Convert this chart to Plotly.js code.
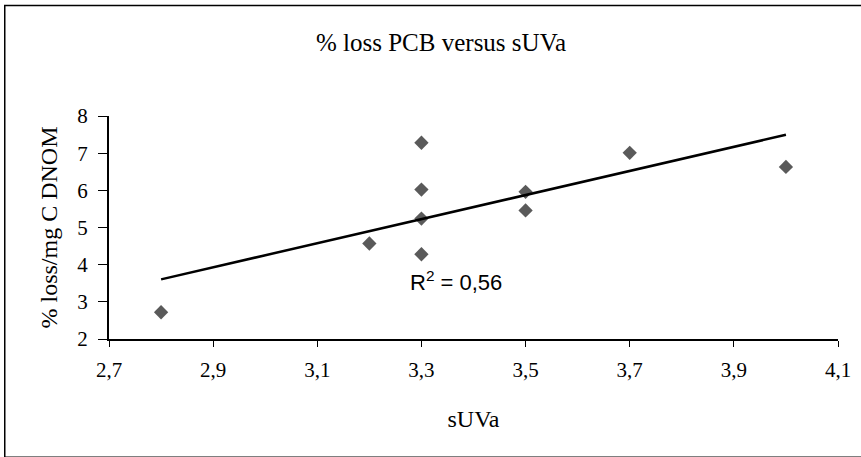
<!DOCTYPE html>
<html><head><meta charset="utf-8">
<script src="https://cdn.plot.ly/plotly-3.0.1.min.js"></script>
<style>html,body{margin:0;padding:0;background:#fff}#chart{width:861px;height:457px}</style>
</head><body><div id="chart"></div>
<script>
var suva = [2.8, 3.2, 3.3, 3.3, 3.3, 3.3, 3.5, 3.5, 3.7, 4.0];
var lossPerMgC = [2.72, 4.57, 7.28, 6.02, 5.24, 4.28, 5.96, 5.46, 7.01, 6.63];
var xTicks = [2.7, 2.9, 3.1, 3.3, 3.5, 3.7, 3.9, 4.1];
var yTicks = [2, 3, 4, 5, 6, 7, 8];
var r2Label = 'R<sup>2</sup> = 0,56';

// least-squares trend line computed from the data
var n = suva.length, mx = 0, my = 0;
for (var i = 0; i < n; i++) { mx += suva[i]; my += lossPerMgC[i]; }
mx /= n; my /= n;
var sxy = 0, sxx = 0;
for (var i = 0; i < n; i++) { sxy += (suva[i]-mx)*(lossPerMgC[i]-my); sxx += (suva[i]-mx)*(suva[i]-mx); }
var slope = sxy / sxx, icpt = my - slope * mx;
var xMin = Math.min.apply(null, suva), xMax = Math.max.apply(null, suva);
var trendX = [xMin, xMax];
var trendY = trendX.map(function (x) { return icpt + slope * x; });

var serif = 'Liberation Serif, Times New Roman, serif';
var data = [
  {x: suva, y: lossPerMgC, type: 'scatter', mode: 'markers',
   marker: {symbol: 'diamond', size: 11, color: '#5a5a5a', line: {width: 0}}, showlegend: false, hoverinfo: 'skip'},
  {x: trendX, y: trendY, type: 'scatter', mode: 'lines',
   line: {color: '#000', width: 2.5}, showlegend: false, hoverinfo: 'skip'}
];
var layout = {
  width: 861, height: 457,
  margin: {l: 109, r: 23, t: 116, b: 118},
  paper_bgcolor: '#fff', plot_bgcolor: '#fff',
  separators: ', ',
  title: {text: '% loss PCB versus sUVa', font: {family: serif, size: 25, color: '#000'},
          x: 441/861, xanchor: 'center', xref: 'container', y: 1 - 42/457, yanchor: 'middle'},
  xaxis: {range: [2.7, 4.1], tickvals: xTicks, ticktext: xTicks.map(function(v){return v.toFixed(1).replace('.', ',');}),
          showgrid: false, zeroline: false, showline: true, linecolor: '#000', linewidth: 2,
          ticks: 'outside', ticklen: 6, tickcolor: '#000', ticklabelstandoff: 5,
          tickfont: {family: serif, size: 21, color: '#000'},
          title: {text: 'sUVa', font: {family: serif, size: 24, color: '#000'}, standoff: 29}},
  yaxis: {range: [2, 8], tickvals: yTicks,
          showgrid: false, zeroline: false, showline: true, linecolor: '#000', linewidth: 2,
          ticks: 'outside', ticklen: 9, tickcolor: '#000', ticklabelstandoff: 6,
          tickfont: {family: serif, size: 21, color: '#000'},
          title: {text: '% loss/mg C DNOM', font: {family: serif, size: 24, color: '#000'}, standoff: 13}},
  annotations: [{x: 3.274, y: 3.55, xref: 'x', yref: 'y', text: r2Label, showarrow: false,
                 xanchor: 'left', yanchor: 'middle', font: {family: 'Liberation Sans, Arial, sans-serif', size: 22, color: '#000'}}],
  shapes: [{type: 'rect', xref: 'paper', yref: 'paper', x0: -0.143, x1: 1.04, y0: -0.53, y1: 1.495,
            line: {color: '#000', width: 1.5}, fillcolor: 'rgba(0,0,0,0)', layer: 'below'}]
};
Plotly.newPlot('chart', data, layout, {staticPlot: true, displayModeBar: false});
</script></body></html>
